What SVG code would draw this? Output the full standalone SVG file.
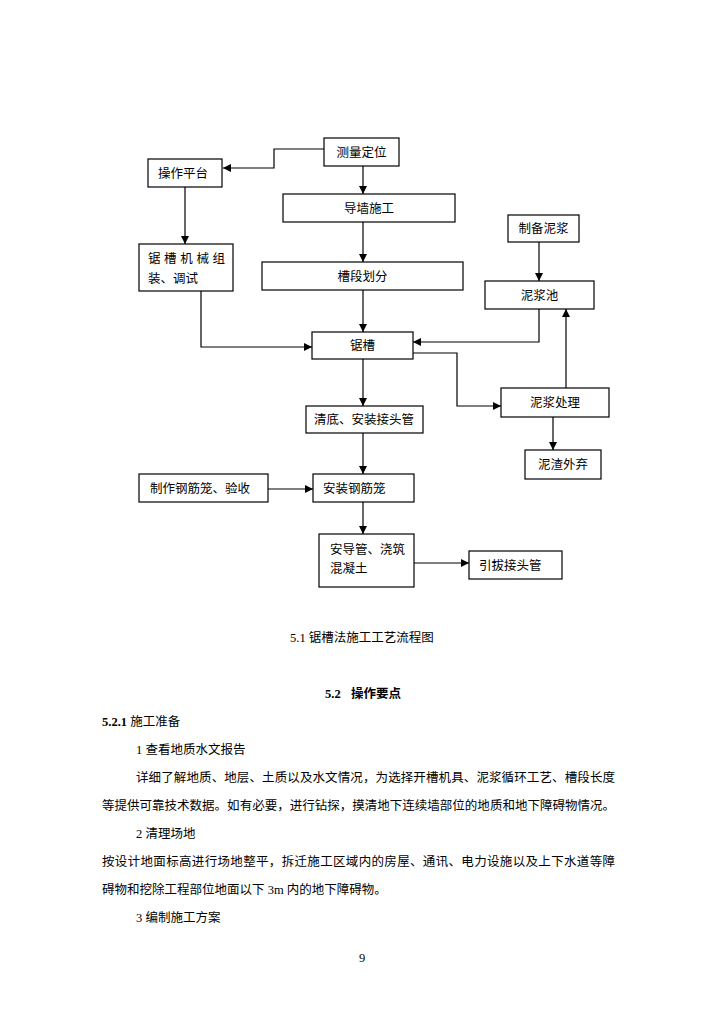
<svg xmlns="http://www.w3.org/2000/svg" width="724" height="1024" viewBox="0 0 724 1024">
<style>
.box{fill:#fff;stroke:#000;stroke-width:1.2}
.lbl{font-family:"Liberation Sans","Noto Sans CJK SC",sans-serif;font-size:12.5px;fill:#000}
.c{text-anchor:middle}
.con{fill:none;stroke:#000;stroke-width:1.2}
.body{font-family:"Liberation Serif","Noto Sans CJK SC",serif;font-size:12.5px;fill:#000}
.b{font-weight:bold}
</style>
<defs>
<marker id="arr" markerUnits="userSpaceOnUse" markerWidth="9" markerHeight="9" refX="8" refY="4" orient="auto">
<path d="M0,0 L8,4 L0,8 z" fill="#000"/>
</marker>
</defs>
<rect width="724" height="1024" fill="#fff"/>
<g id="connectors">
<path class="con" d="M324,149 H274 V168 H223" marker-end="url(#arr)"/>
<path class="con" d="M363,166 V194" marker-end="url(#arr)"/>
<path class="con" d="M363,222 V262" marker-end="url(#arr)"/>
<path class="con" d="M363,290 V332" marker-end="url(#arr)"/>
<path class="con" d="M185,187 V244" marker-end="url(#arr)"/>
<path class="con" d="M201,291 V347 H312" marker-end="url(#arr)"/>
<path class="con" d="M539,242 V281" marker-end="url(#arr)"/>
<path class="con" d="M539,309 V342 H413" marker-end="url(#arr)"/>
<path class="con" d="M413,353 H457 V406 H501" marker-end="url(#arr)"/>
<path class="con" d="M566,388 V309" marker-end="url(#arr)"/>
<path class="con" d="M553,417 V450" marker-end="url(#arr)"/>
<path class="con" d="M363,359 V406" marker-end="url(#arr)"/>
<path class="con" d="M363,433 V474" marker-end="url(#arr)"/>
<path class="con" d="M268,489 H313" marker-end="url(#arr)"/>
<path class="con" d="M363,502 V534" marker-end="url(#arr)"/>
<path class="con" d="M414,563 H469" marker-end="url(#arr)"/>
</g>
<g id="n-celiang"><rect class="box" x="324" y="138" width="75" height="28"/><text class="lbl c" x="361.5" y="156.5">测量定位</text></g>
<g id="n-caozuo"><rect class="box" x="148" y="159" width="74" height="28"/><text class="lbl" x="158" y="177.5">操作平台</text></g>
<g id="n-daoqiang"><rect class="box" x="283" y="194" width="172" height="28"/><text class="lbl c" x="369" y="212.5">导墙施工</text></g>
<g id="n-caoduan"><rect class="box" x="262" y="262" width="201" height="28"/><text class="lbl c" x="362.5" y="280.5">槽段划分</text></g>
<g id="n-jixie"><rect class="box" x="139" y="244" width="94" height="47"/><text class="lbl" x="148 164.1 180.3 196.4 212.5" y="262.5">锯槽机械组</text><text class="lbl" x="148" y="282.5">装、调试</text></g>
<g id="n-zhibei"><rect class="box" x="508" y="215" width="71" height="27"/><text class="lbl c" x="543.5" y="233">制备泥浆</text></g>
<g id="n-nijiangchi"><rect class="box" x="485" y="281" width="109" height="28"/><text class="lbl c" x="539.5" y="299.5">泥浆池</text></g>
<g id="n-jucao"><rect class="box" x="312" y="332" width="101" height="27"/><text class="lbl c" x="362.5" y="350">锯槽</text></g>
<g id="n-chuli"><rect class="box" x="501" y="388" width="108" height="29"/><text class="lbl c" x="555" y="407">泥浆处理</text></g>
<g id="n-qingdi"><rect class="box" x="306" y="406" width="117" height="27"/><text class="lbl c" x="364" y="424">清底、安装接头管</text></g>
<g id="n-nizha"><rect class="box" x="525" y="450" width="76" height="29"/><text class="lbl c" x="563" y="469">泥渣外弃</text></g>
<g id="n-zhizuo"><rect class="box" x="139" y="474" width="129" height="28"/><text class="lbl" x="150" y="492.5">制作钢筋笼、验收</text></g>
<g id="n-anzhuang"><rect class="box" x="313" y="474" width="101" height="28"/><text class="lbl" x="323" y="492.5">安装钢筋笼</text></g>
<g id="n-jiaozhu"><rect class="box" x="319" y="534" width="95" height="53"/><text class="lbl" x="330" y="553.5">安导管、浇筑</text><text class="lbl" x="330" y="572.5">混凝土</text></g>
<g id="n-yinba"><rect class="box" x="469" y="551" width="93" height="28"/><text class="lbl" x="479" y="569.5">引拔接头管</text></g>
<g id="text">
<text class="body c" x="362" y="641.5">5.1 锯槽法施工工艺流程图</text>
<text class="body b" x="325" y="697.5">5.2</text><text class="body b" x="351" y="697.5">操作要点</text>
<text class="body" x="102" y="725.5"><tspan class="b">5.2.1</tspan> 施工准备</text>
<text class="body" x="136" y="753.5">1 查看地质水文报告</text>
<text class="body" x="136" y="781.5" textLength="479" lengthAdjust="spacing">详细了解地质、地层、土质以及水文情况，为选择开槽机具、泥浆循环工艺、槽段长度</text>
<text class="body" x="102" y="809.5" textLength="513" lengthAdjust="spacing">等提供可靠技术数据。如有必要，进行钻探，摸清地下连续墙部位的地质和地下障碍物情况。</text>
<text class="body" x="136" y="837.5">2 清理场地</text>
<text class="body" x="102" y="866" textLength="513" lengthAdjust="spacing">按设计地面标高进行场地整平，拆迁施工区域内的房屋、通讯、电力设施以及上下水道等障</text>
<text class="body" x="102" y="894">碍物和挖除工程部位地面以下 3m 内的地下障碍物。</text>
<text class="body" x="136" y="922">3 编制施工方案</text>
<text class="body c" x="362" y="962">9</text>
</g>
</svg>
